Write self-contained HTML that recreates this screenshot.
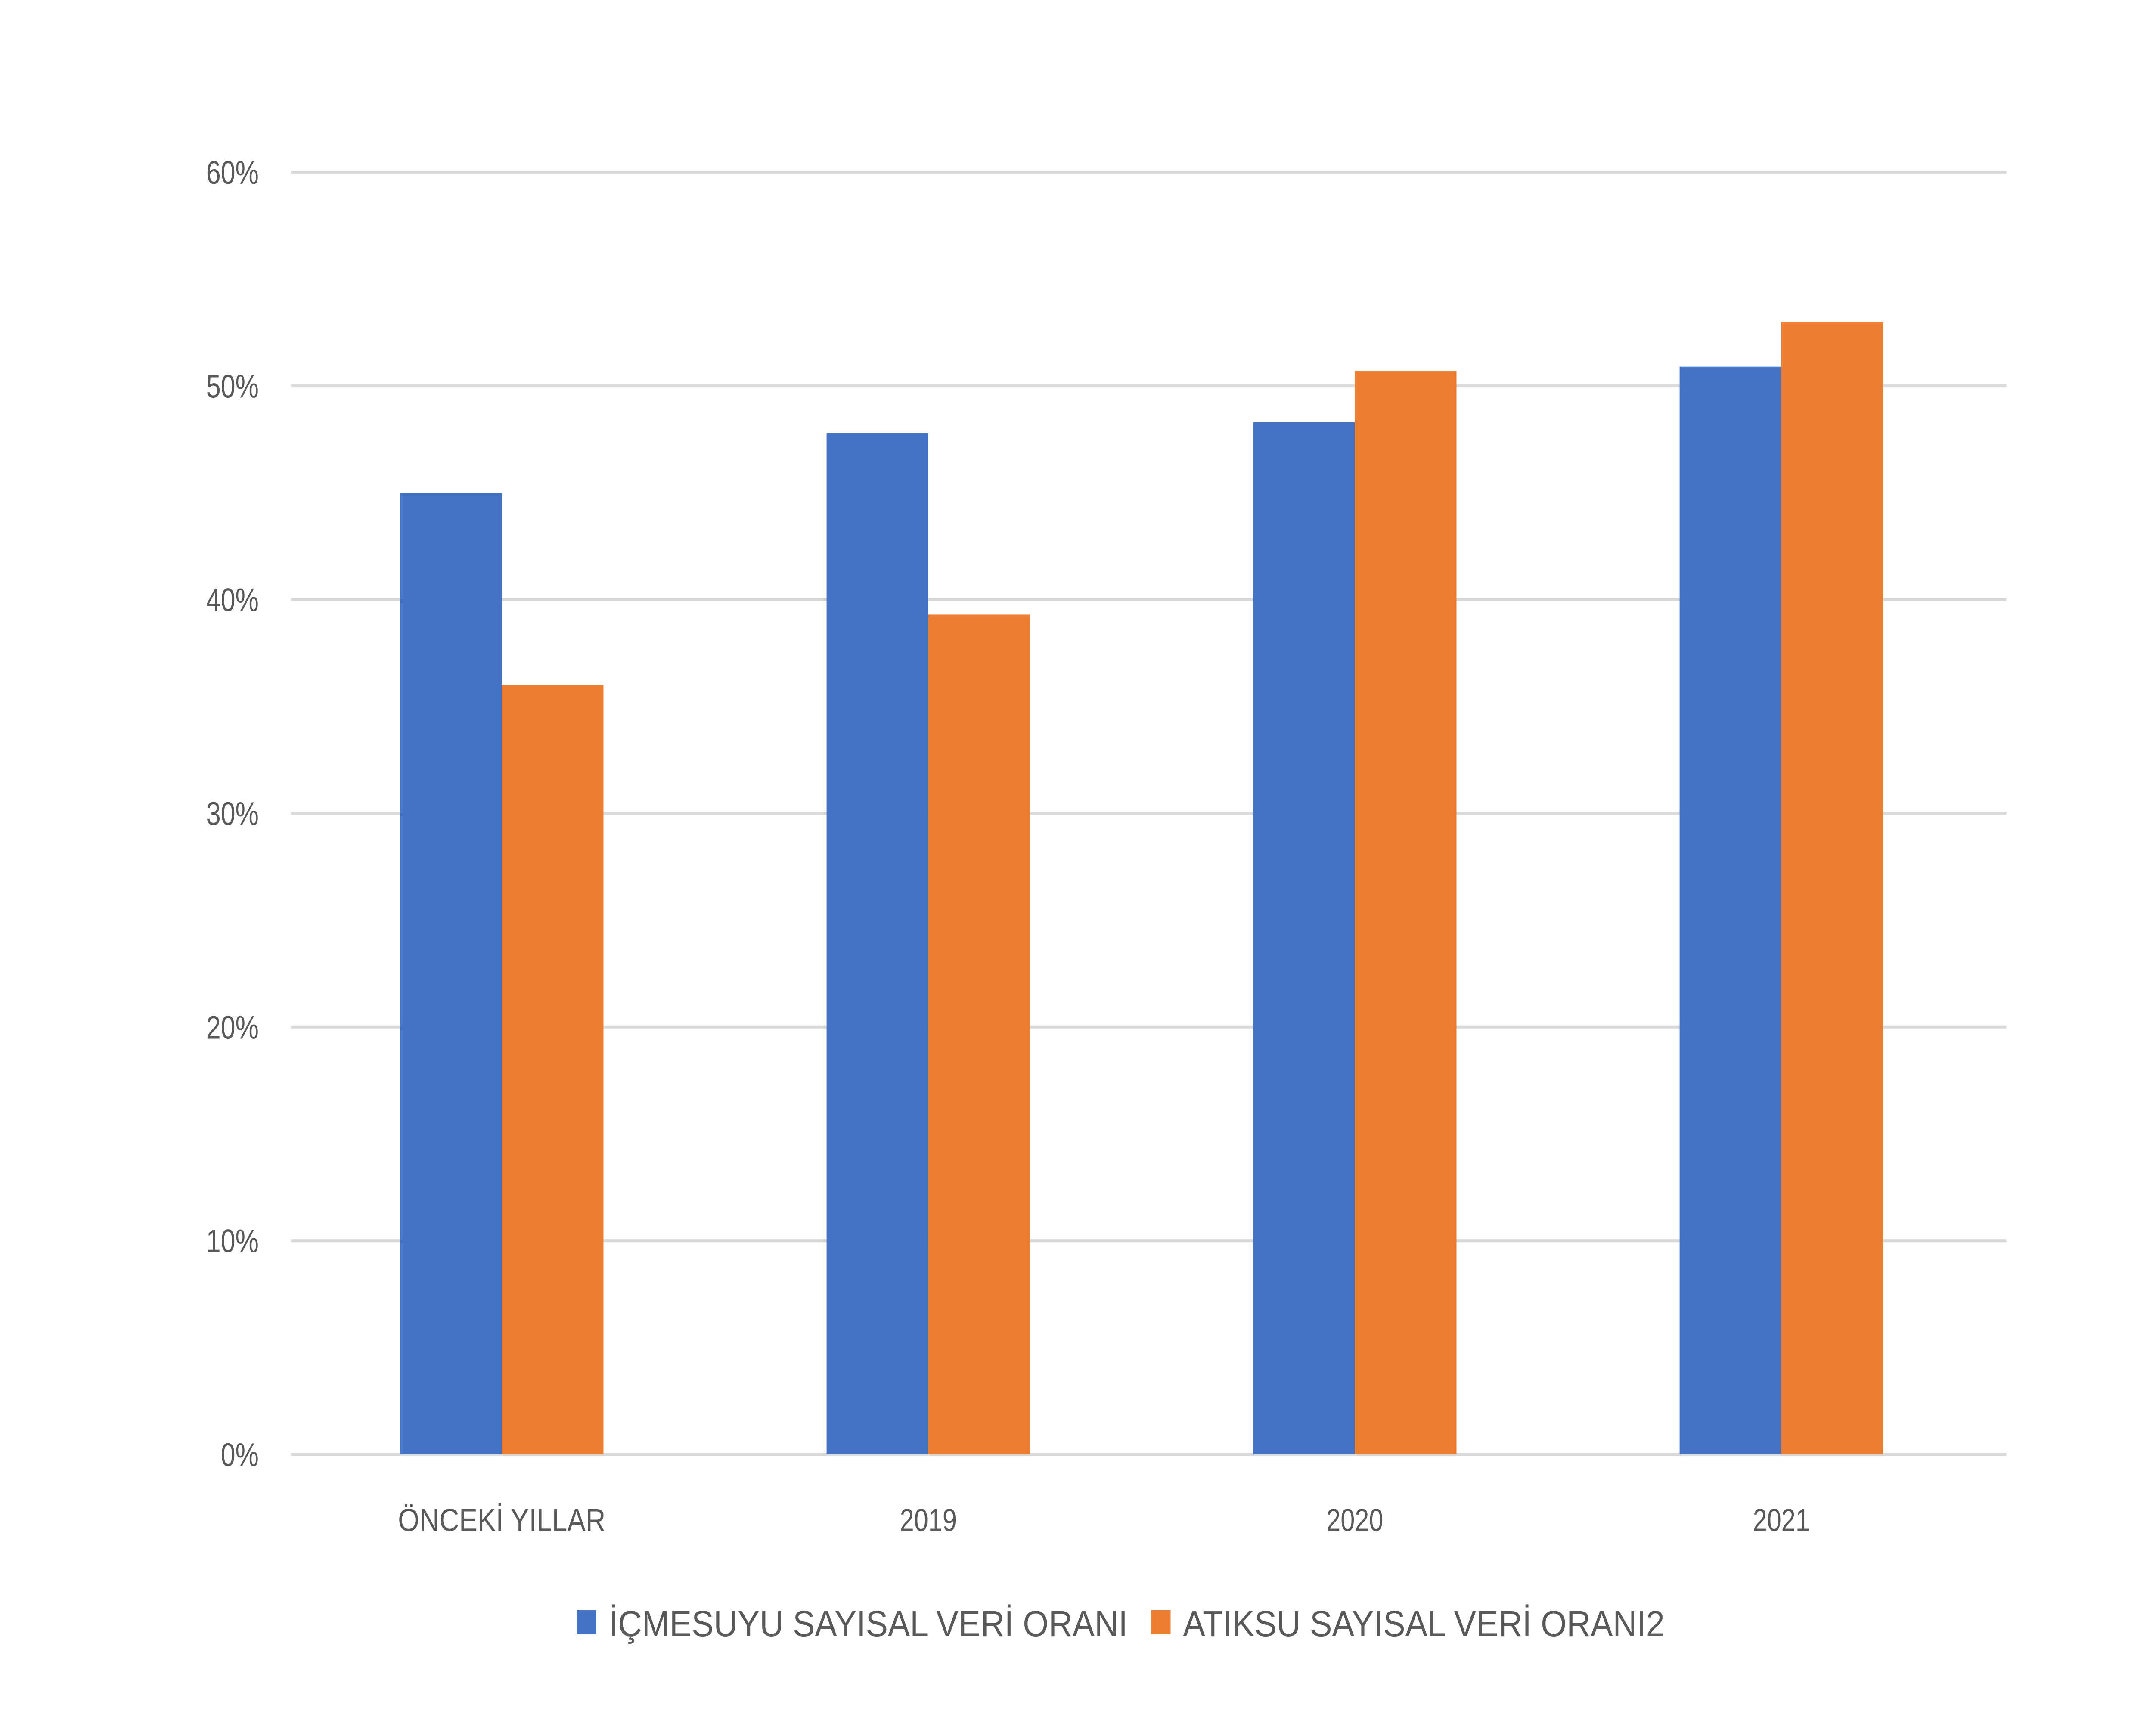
<!DOCTYPE html>
<html><head><meta charset="utf-8"><style>
html,body{margin:0;padding:0;background:#fff;width:100vw;height:100vh;overflow:hidden;}
svg{display:block;position:absolute;left:0;top:0;width:100vw;height:100vh;}
text{font-family:"Liberation Sans",sans-serif;fill:#595959;}
</style></head><body>
<svg id="chart" viewBox="0 0 6224 4032" preserveAspectRatio="none" xmlns="http://www.w3.org/2000/svg">
<rect width="6224" height="4032" fill="#ffffff"/>
<g id="grid"></g>
<g id="yticks"></g>
<g id="bars"></g>
<g id="xticks"></g>
<g>
  <rect x="1668" y="3740" width="56" height="56" fill="#4472C4"/>
  <text x="1760" y="3800" font-size="84" textLength="1500" lengthAdjust="spacingAndGlyphs">İÇMESUYU SAYISAL VERİ ORANI</text>
  <rect x="3328" y="3740" width="56" height="56" fill="#ED7D31"/>
  <text x="3420" y="3800" font-size="84" textLength="1392" lengthAdjust="spacingAndGlyphs">ATIKSU SAYISAL VERİ ORANI2</text>
</g>
</svg>
<script>
const categories = ["ÖNCEKİ YILLAR", "2019", "2020", "2021"];
const icmesuyu = [45, 47.8, 48.3, 50.9];
const atiksu = [36, 39.3, 50.7, 53];
const yTicks = [0, 10, 20, 30, 40, 50, 60];
const yTickLabels = ["0%", "10%", "20%", "30%", "40%", "50%", "60%"];

const NS = "http://www.w3.org/2000/svg";
const plotLeft = 834, plotRight = 5766, y0 = 3378, y60 = 400;
function yScale(v){ return y0 - (v/60)*(y0-y60); }
const band = (plotRight-plotLeft)/categories.length;
function xCenter(i){ return plotLeft + band*(i+0.5); }
const barW = 294;

const grid = document.getElementById('grid');
const yt = document.getElementById('yticks');
yTicks.forEach((t,i)=>{
  const l = document.createElementNS(NS,'line');
  l.setAttribute('x1',841); l.setAttribute('x2',5800);
  l.setAttribute('y1',yScale(t)); l.setAttribute('y2',yScale(t));
  l.setAttribute('stroke','#d9d9d9'); l.setAttribute('stroke-width','7');
  
  
  grid.appendChild(l);
  const tx = document.createElementNS(NS,'text');
  tx.setAttribute('x',748); tx.setAttribute('y',yScale(t)+27);
  tx.setAttribute('text-anchor','end'); tx.setAttribute('font-size','76');
  tx.textContent = yTickLabels[i];
  
  
  yt.appendChild(tx);
});

const bars = document.getElementById('bars');
const xt = document.getElementById('xticks');
categories.forEach((c,i)=>{
  const cx = xCenter(i);
  const b = document.createElementNS(NS,'rect');
  b.setAttribute('x',cx-barW); b.setAttribute('width',barW);
  b.setAttribute('y',yScale(icmesuyu[i])); b.setAttribute('height',y0-yScale(icmesuyu[i]));
  b.setAttribute('fill','#4472C4');
  
  
  bars.appendChild(b);
  const o = document.createElementNS(NS,'rect');
  o.setAttribute('x',cx); o.setAttribute('width',barW);
  o.setAttribute('y',yScale(atiksu[i])); o.setAttribute('height',y0-yScale(atiksu[i]));
  o.setAttribute('fill','#ED7D31');
  
  
  bars.appendChild(o);
  const tx = document.createElementNS(NS,'text');
  tx.setAttribute('x',cx); tx.setAttribute('y',3556);
  tx.setAttribute('text-anchor','middle'); tx.setAttribute('font-size','74');
  if(i===0){ tx.setAttribute('textLength','600'); tx.setAttribute('lengthAdjust','spacingAndGlyphs'); }
  tx.textContent = c;
  
  
  xt.appendChild(tx);
});
</script>
</body></html>
